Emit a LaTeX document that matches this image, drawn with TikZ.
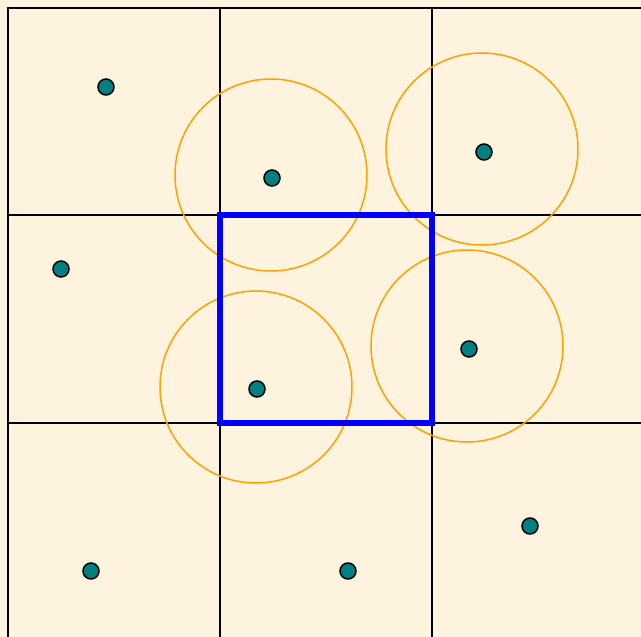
\documentclass[tikz,border=0pt]{standalone}
\definecolor{parch}{HTML}{FDF3DE}
\definecolor{dotteal}{HTML}{008080}
\definecolor{ringorange}{HTML}{FFA200}
\definecolor{boxblue}{HTML}{0000FF}
\begin{document}
\begin{tikzpicture}[x=1pt,y=-1pt,
  gridline/.style={black,line width=2pt},
  pt/.style={circle,draw=black,line width=1.5pt,fill=dotteal,minimum size=16pt,inner sep=0pt},
  ring/.style={draw=ringorange,line width=1.5pt},
  cellbox/.style={draw=boxblue,line width=5.5pt}]
\fill[parch] (0,0) rectangle (641,637);
\useasboundingbox (0,0) rectangle (641,637);
% grid
\draw[gridline] (8,637) -- (8,7.5) -- (641,7.5);
\draw[gridline] (220,7.5) -- (220,637);
\draw[gridline] (432,7.5) -- (432,637);
\draw[gridline] (8,215) -- (641,215);
\draw[gridline] (8,423) -- (641,423);
% rings
\draw[ring] (271,175) circle (96);
\draw[ring] (482,149) circle (96);
\draw[ring] (256,387) circle (96);
\draw[ring] (467,346) circle (96);
% blue cell
\draw[cellbox] (220,215) rectangle (432,423);
% points
\node[pt] (p1) at (106,87) {};
\node[pt] (p2) at (272,178) {};
\node[pt] (p3) at (484,152) {};
\node[pt] (p4) at (61,269) {};
\node[pt] (p5) at (257,389) {};
\node[pt] (p6) at (469,349) {};
\node[pt] (p7) at (530,526) {};
\node[pt] (p8) at (91,571) {};
\node[pt] (p9) at (348,571) {};
\end{tikzpicture}
\end{document}
